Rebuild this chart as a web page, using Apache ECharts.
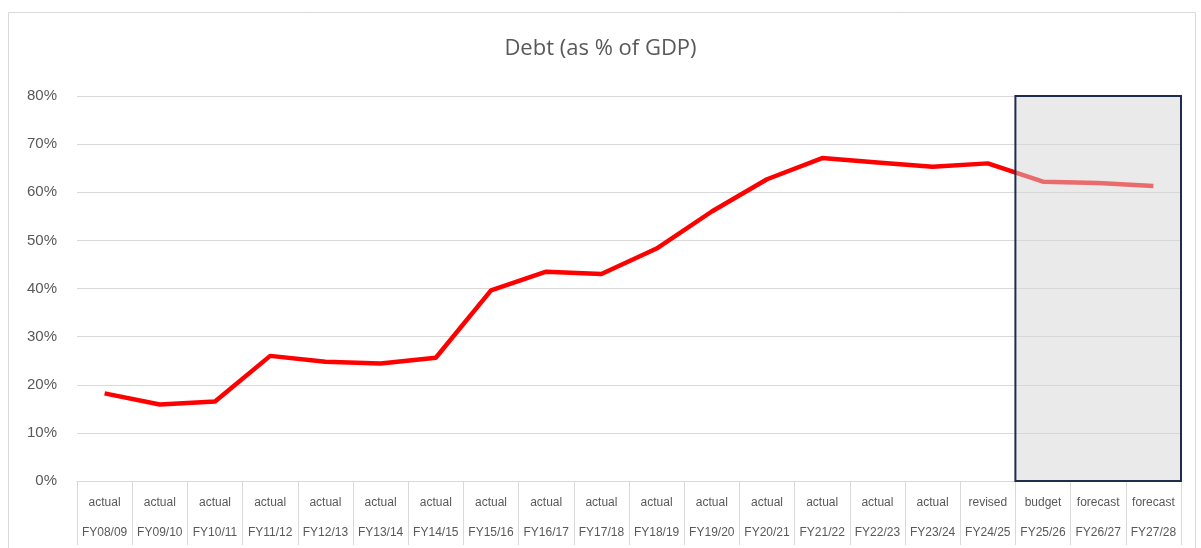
<!DOCTYPE html>
<html>
<head>
<meta charset="utf-8">
<script src="https://cdn.jsdelivr.net/npm/echarts@6/dist/echarts.min.js"></script>
<style>html,body{margin:0;padding:0;background:#fff}#c{width:1201px;height:548px}</style>
</head>
<body>
<div id="c"></div>
<script>
const years = ['FY08/09','FY09/10','FY10/11','FY11/12','FY12/13','FY13/14','FY14/15','FY15/16','FY16/17','FY17/18','FY18/19','FY19/20','FY20/21','FY21/22','FY22/23','FY23/24','FY24/25','FY25/26','FY26/27','FY27/28'];
const status = ['actual','actual','actual','actual','actual','actual','actual','actual','actual','actual','actual','actual','actual','actual','actual','actual','revised','budget','forecast','forecast'];
const debtPct = [18.2,15.9,16.5,26.0,24.8,24.4,25.6,39.6,43.5,43.0,48.3,56.0,62.7,67.1,66.2,65.3,66.0,62.2,61.9,61.3];
const yTicks = {min:0, max:80, interval:10};
const shadedFrom = 17, shadedTo = 20;

const chart = echarts.init(document.getElementById('c'));
const font = 'Liberation Sans, Arial, sans-serif';
chart.setOption({
  animation:false,
  backgroundColor:'#fff',
  graphic:[{type:'rect',shape:{x:8.5,y:12.5,width:1187,height:560},style:{fill:'none',stroke:'#d9d9d9',lineWidth:1},silent:true}],
  title:{text:'Debt (as % of GDP)',left:'center',top:33,textStyle:{fontFamily:'Open Sans, sans-serif',fontSize:22,fontWeight:'normal',color:'#595959'}},
  grid:{left:77,right:20,top:96,bottom:66},
  xAxis:[{
    type:'category',
    data:years.map((y,i)=>status[i]+'\n'+y),
    boundaryGap:true,
    axisLine:{lineStyle:{color:'#d9d9d9',width:1}},
    axisTick:{show:true,length:64,interval:0,lineStyle:{color:'#d9d9d9'}},
    axisLabel:{interval:0,color:'#595959',fontFamily:font,fontSize:12,lineHeight:30,margin:7}
  },{
    type:'value',min:0,max:20,show:false
  }],
  yAxis:{
    type:'value',min:yTicks.min,max:yTicks.max,interval:yTicks.interval,
    axisLine:{show:false},axisTick:{show:false},
    splitLine:{lineStyle:{color:'#d9d9d9',width:1}},
    axisLabel:{formatter:'{value}%',color:'#595959',fontFamily:font,fontSize:15,margin:20}
  },
  series:[{
    type:'line',data:debtPct,symbol:'none',z:2,
    lineStyle:{color:'#ff0000',width:4.5}
  },{
    type:'line',xAxisIndex:1,data:[[shadedFrom,yTicks.min]],symbol:'none',z:5,silent:true,
    lineStyle:{opacity:0},
    markArea:{silent:true,z:10,
      itemStyle:{color:'rgba(214,214,214,0.5)',borderColor:'#1f2d4d',borderWidth:2},
      data:[[{coord:[shadedFrom,yTicks.min]},{coord:[shadedTo,yTicks.max]}]]}
  }]
});
</script>
</body>
</html>
